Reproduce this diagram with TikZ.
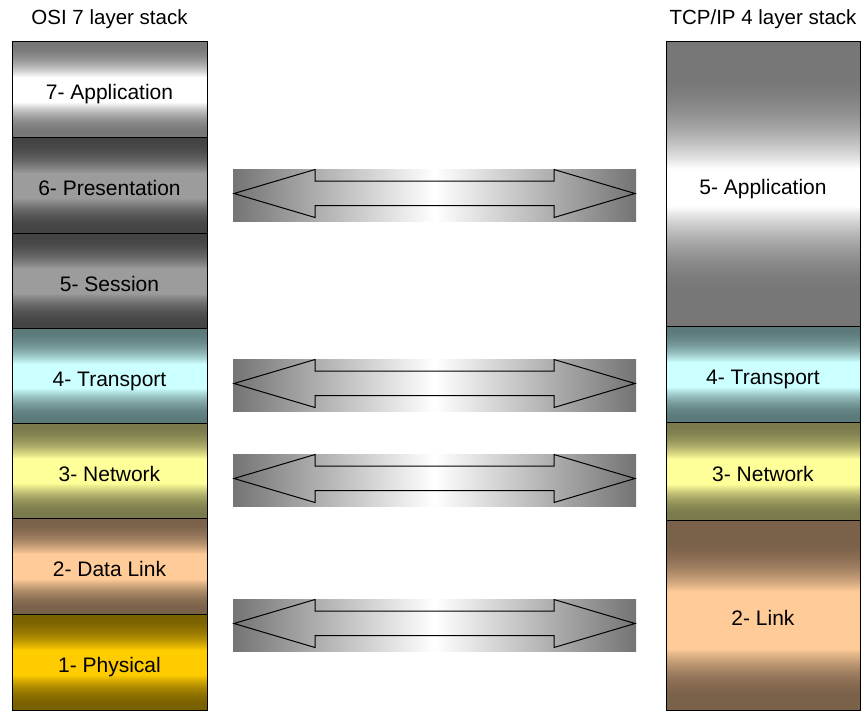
\documentclass[tikz,border=0pt]{standalone}
\usepackage{fontspec}
\setmainfont{Liberation Sans}

% layer colours: edge shade and centre highlight
\definecolor{appEdge}{HTML}{777777}
\definecolor{presEdge}{HTML}{444444}
\definecolor{presMid}{HTML}{9C9C9C}
\definecolor{transEdge}{HTML}{5C7A7A}
\definecolor{transMid}{HTML}{CCFFFF}
\definecolor{netEdge}{HTML}{7A7A4C}
\definecolor{netMid}{HTML}{FFFF99}
\definecolor{linkEdge}{HTML}{7A614A}
\definecolor{linkMid}{HTML}{FFCC99}
\definecolor{physEdge}{HTML}{7A6100}
\definecolor{physMid}{HTML}{FFCC00}
\definecolor{arrEdge}{HTML}{747474}

% banded vertical gradient made of 1pt strips
% args: left x, top y, width, height (integer), edge colour, centre colour,
%       profile {a,b,c,d}: edge until a, ramps (quadratically) to centre
%       colour at b, stays until c, back to edge colour at d
\def\gradparse#1,#2,#3,#4\relax{\def\gradA{#1}\def\gradB{#2}\def\gradC{#3}\def\gradD{#4}}
\newcommand\gradbox[7]{%
  \expandafter\gradparse#7\relax
  \pgfmathtruncatemacro\gradN{#4-1}%
  \foreach \i in {0,...,\gradN}{%
    \pgfmathsetmacro\gradT{(\i+0.5)/#4}%
    \pgfmathsetmacro\gradR{max(0,min(1,(\gradT-\gradA)/(\gradB-\gradA),(\gradD-\gradT)/(\gradD-\gradC)))}%
    \pgfmathtruncatemacro\gradP{100*\gradR*\gradR}%
    \fill[#6!\gradP!#5] (#1,#2+\i) rectangle (#1+#3,#2+\i+1.3);
  }}
\def\bandprof{0.02,0.38,0.64,0.98}

\tikzset{
  titletxt/.style={font=\fontsize{20.5}{24}\selectfont, text=black, inner sep=0pt},
  layer/.style={font=\fontsize{21}{24}\selectfont, text=black, draw=black,
    line width=1pt, inner sep=0pt, text height=21pt, text depth=0pt},
  arrowshade/.style={left color=arrEdge, right color=arrEdge, middle color=white},
  pics/duplex/.style={code={
    \fill[arrowshade] (0,0) rectangle (403,52);
    \draw[line width=1pt, line join=miter]
      (1,24.5) -- (82,0.5) -- (82,12) -- (321,12) -- (321,0.5) -- (402,24.5)
      -- (321,48.5) -- (321,36.5) -- (82,36.5) -- (82,48.5) -- cycle;
  }}
}

\begin{document}
\begin{tikzpicture}[x=1pt,y=-1pt]
  \useasboundingbox (0,0) rectangle (862,710);
  \fill[white] (0,0) rectangle (862,710);

  % stack titles
  \node[titletxt] (osititle) at (109.5,19.5) {OSI 7 layer stack};
  \node[titletxt] (tcptitle) at (763,19.5) {TCP/IP 4 layer stack};

  % OSI stack: colour bands
  \gradbox{12}{41}{195}{96}{appEdge}{white}{\bandprof}
  \gradbox{12}{137}{195}{96}{presEdge}{presMid}{\bandprof}
  \gradbox{12}{233}{195}{95}{presEdge}{presMid}{\bandprof}
  \gradbox{12}{328}{195}{95}{transEdge}{transMid}{\bandprof}
  \gradbox{12}{423}{195}{95}{netEdge}{netMid}{\bandprof}
  \gradbox{12}{518}{195}{96}{linkEdge}{linkMid}{\bandprof}
  \gradbox{12}{614}{195}{96}{physEdge}{physMid}{\bandprof}

  % OSI stack: layers
  \node[layer, minimum width=195pt, minimum height=96pt]
    (l7) at (109.5,89) {7- Application};
  \node[layer, minimum width=195pt, minimum height=96pt]
    (l6) at (109.5,185) {6- Presentation};
  \node[layer, minimum width=195pt, minimum height=95pt]
    (l5) at (109.5,280.5) {5- Session};
  \node[layer, minimum width=195pt, minimum height=95pt]
    (l4) at (109.5,375.5) {4- Transport};
  \node[layer, minimum width=195pt, minimum height=95pt]
    (l3) at (109.5,470.5) {3- Network};
  \node[layer, minimum width=195pt, minimum height=96pt]
    (l2) at (109.5,566) {2- Data Link};
  \node[layer, minimum width=195pt, minimum height=96pt]
    (l1) at (109.5,662) {1- Physical};

  % TCP/IP stack: colour bands
  \gradbox{666}{41}{194}{285}{appEdge}{white}{0.1,0.45,0.58,0.9}
  \gradbox{666}{326}{194}{96}{transEdge}{transMid}{\bandprof}
  \gradbox{666}{422}{194}{98}{netEdge}{netMid}{\bandprof}
  \gradbox{666}{520}{194}{190}{linkEdge}{linkMid}{0.1,0.38,0.68,0.95}

  % TCP/IP stack: layers
  \node[layer, minimum width=194pt, minimum height=285pt]
    (t5) at (763,183.5) {5- Application};
  \node[layer, minimum width=194pt, minimum height=96pt]
    (t4) at (763,374) {4- Transport};
  \node[layer, minimum width=194pt, minimum height=98pt]
    (t3) at (763,471) {3- Network};
  \node[layer, minimum width=194pt, minimum height=190pt]
    (t2) at (763,615) {2- Link};

  % peer-layer exchange arrows
  \pic (a5) at (233,169) {duplex};
  \pic (a4) at (233,359) {duplex};
  \pic (a3) at (233,454) {duplex};
  \pic (a2) at (233,599) {duplex};
\end{tikzpicture}
\end{document}
